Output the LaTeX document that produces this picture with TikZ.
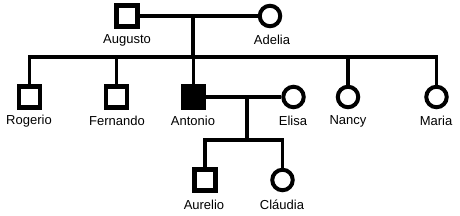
\documentclass[tikz,border=0pt]{standalone}
\usepackage{fontspec}
\setmainfont{Liberation Sans}
\begin{document}
\begin{tikzpicture}[x=1pt,y=-1pt,
  line width=3.5pt,
  male/.style={draw,rectangle,line width=4.5pt,minimum size=21pt,inner sep=0pt,fill=white},
  female/.style={draw,circle,line width=4pt,minimum size=20.5pt,inner sep=0pt,fill=white},
  affected/.style={male,fill=black},
  lbl/.style={font=\fontsize{13}{15}\selectfont,inner sep=0pt}]
\useasboundingbox (0,0) rectangle (460,216);
% generation I
\node[male] (augusto) at (127,16) {};
\node[female] (adelia) at (270,16) {};
\node[lbl] (laugusto) at (127,40) {Augusto};
\node[lbl] (ladelia) at (272,40) {Adelia};
% generation II
\node[male] (rogerio) at (29.5,97) {};
\node[male] (fernando) at (116.5,97) {};
\node[affected] (antonio) at (193.5,97) {};
\node[female] (elisa) at (293.5,97) {};
\node[female] (nancy) at (348,97) {};
\node[female] (maria) at (436.5,97) {};
\node[lbl] (lrogerio) at (29,121) {Rogerio};
\node[lbl] (lfernando) at (117,121) {Fernando};
\node[lbl] (lantonio) at (193,121) {Antonio};
\node[lbl] (lelisa) at (293,121) {Elisa};
\node[lbl] (lnancy) at (348,121) {Nancy};
\node[lbl] (lmaria) at (436,121) {Maria};
% generation III
\node[male] (aurelio) at (205,180) {};
\node[female] (claudia) at (282.5,180) {};
\node[lbl] (laurelio) at (204,205) {Aurelio};
\node[lbl] (lclaudia) at (282,205) {Cláudia};
% connectors
\coordinate (m1) at (193,15);
\coordinate (s1) at (193,57);
\coordinate (m2) at (247,97);
\coordinate (s2) at (247,140);
\draw (augusto.east) -- (adelia.west);
\draw (m1) -- (s1);
\draw (rogerio.north) -- (rogerio.north |- s1) -- (maria.north |- s1) -- (maria.north);
\draw (fernando.north) -- (fernando.north |- s1);
\draw (antonio.north) -- (antonio.north |- s1);
\draw (nancy.north) -- (nancy.north |- s1);
\draw (antonio.east) -- (elisa.west);
\draw (m2) -- (s2);
\draw (aurelio.north) -- (aurelio.north |- s2) -- (claudia.north |- s2) -- (claudia.north);
\end{tikzpicture}
\end{document}
